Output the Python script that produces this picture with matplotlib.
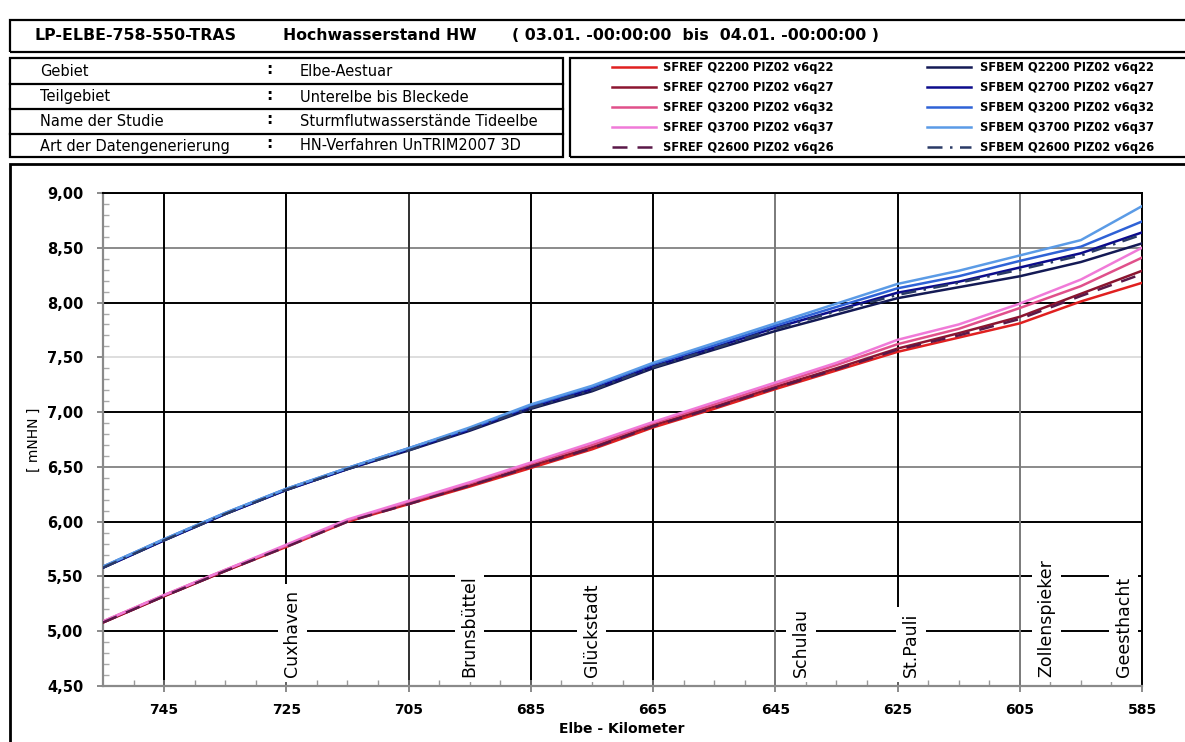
import matplotlib
matplotlib.use('Agg')
import matplotlib.pyplot as plt
from matplotlib.lines import Line2D
from matplotlib.patches import Rectangle

# ---------------- data ----------------
km = [755, 745, 735, 725, 715, 705, 695, 685, 675, 665, 655, 645, 635, 625, 615, 605, 595, 585]

sfref_q2200 = [5.08, 5.32, 5.55, 5.77, 6.00, 6.16, 6.32, 6.49, 6.66, 6.86, 7.03, 7.21, 7.38, 7.55, 7.68, 7.81, 8.01, 8.18]
sfref_q2700 = [5.08, 5.32, 5.55, 5.78, 6.01, 6.17, 6.33, 6.51, 6.68, 6.88, 7.05, 7.23, 7.40, 7.58, 7.72, 7.87, 8.08, 8.29]
sfref_q3200 = [5.09, 5.33, 5.56, 5.78, 6.01, 6.18, 6.35, 6.53, 6.70, 6.90, 7.07, 7.25, 7.43, 7.62, 7.76, 7.95, 8.15, 8.41]
sfref_q3700 = [5.09, 5.33, 5.56, 5.79, 6.02, 6.19, 6.36, 6.54, 6.72, 6.91, 7.09, 7.27, 7.45, 7.66, 7.80, 7.99, 8.21, 8.50]
sfref_q2600 = [5.08, 5.32, 5.55, 5.77, 6.00, 6.16, 6.33, 6.50, 6.67, 6.87, 7.04, 7.22, 7.39, 7.57, 7.70, 7.85, 8.06, 8.26]

sfbem_q2200 = [5.58, 5.83, 6.07, 6.29, 6.48, 6.65, 6.83, 7.03, 7.19, 7.40, 7.57, 7.74, 7.89, 8.04, 8.14, 8.24, 8.37, 8.54]
sfbem_q2700 = [5.58, 5.83, 6.07, 6.29, 6.48, 6.66, 6.84, 7.05, 7.21, 7.42, 7.59, 7.77, 7.93, 8.09, 8.19, 8.32, 8.45, 8.64]
sfbem_q3200 = [5.59, 5.84, 6.08, 6.30, 6.49, 6.67, 6.85, 7.06, 7.23, 7.44, 7.61, 7.79, 7.96, 8.13, 8.24, 8.38, 8.51, 8.74]
sfbem_q3700 = [5.59, 5.84, 6.08, 6.30, 6.49, 6.67, 6.86, 7.07, 7.24, 7.45, 7.63, 7.81, 7.99, 8.17, 8.29, 8.43, 8.57, 8.88]
sfbem_q2600 = [5.58, 5.83, 6.07, 6.29, 6.48, 6.65, 6.84, 7.04, 7.20, 7.41, 7.58, 7.76, 7.92, 8.07, 8.18, 8.30, 8.43, 8.62]

labels_ref = ["SFREF Q2200 PIZ02 v6q22", "SFREF Q2700 PIZ02 v6q27", "SFREF Q3200 PIZ02 v6q32",
              "SFREF Q3700 PIZ02 v6q37", "SFREF Q2600 PIZ02 v6q26"]
labels_bem = ["SFBEM Q2200 PIZ02 v6q22", "SFBEM Q2700 PIZ02 v6q27", "SFBEM Q3200 PIZ02 v6q32",
              "SFBEM Q3700 PIZ02 v6q37", "SFBEM Q2600 PIZ02 v6q26"]

stations = ["Cuxhaven", "Brunsbüttel", "Glückstadt", "Schulau", "St.Pauli", "Zollenspieker", "Geesthacht"]
station_km = [724.0, 695.0, 675.0, 640.8, 622.8, 600.6, 588.0]

xticks = [745, 725, 705, 685, 665, 645, 625, 605, 585]
xticklabels = ["745", "725", "705", "685", "665", "645", "625", "605", "585"]
yticks = [4.5, 5.0, 5.5, 6.0, 6.5, 7.0, 7.5, 8.0, 8.5, 9.0]

info_keys = ["Gebiet", "Teilgebiet", "Name der Studie", "Art der Datengenerierung"]
info_vals = ["Elbe-Aestuar", "Unterelbe bis Bleckede", "Sturmflutwasserstände Tideelbe", "HN-Verfahren UnTRIM2007 3D"]

# ---------------- styles ----------------
ref_values = [sfref_q2200, sfref_q2700, sfref_q3200, sfref_q3700, sfref_q2600]
bem_values = [sfbem_q2200, sfbem_q2700, sfbem_q3200, sfbem_q3700, sfbem_q2600]
ref_colors = ["#e02020", "#8c1530", "#e0508a", "#f07ad8", "#5a1848"]
bem_colors = ["#141a55", "#0c0c8c", "#2f62d6", "#5b9be6", "#2a3a66"]
ref_styles = ["-", "-", "-", "-", (0, (6, 4))]
bem_styles = ["-", "-", "-", "-", (0, (6, 3, 1, 3))]

W, H = 1185, 742
fig = plt.figure(figsize=(W / 100, H / 100), dpi=100)
fig.patch.set_facecolor("white")


def fx(x):
    return x / W


def fy(y):
    return 1 - y / H


def frame(x0, y0, x1, y1, lw=1.6):
    fig.add_artist(Rectangle((fx(x0), fy(y1)), fx(x1) - fx(x0), fy(y0) - fy(y1),
                             transform=fig.transFigure, fill=False, ec="black", lw=lw))


def hline(x0, x1, y, lw=1.6):
    fig.add_artist(Line2D([fx(x0), fx(x1)], [fy(y), fy(y)], transform=fig.transFigure,
                          color="black", lw=lw))


# header
frame(10, 20, 1195, 52)
fig.text(fx(35), fy(36), "LP-ELBE-758-550-TRAS", family="DejaVu Sans", weight="bold", size=11.3, va="center")
fig.text(fx(283), fy(36), "Hochwasserstand HW", family="DejaVu Sans", weight="bold", size=11.3, va="center")
fig.text(fx(512), fy(36), "( 03.01. -00:00:00  bis  04.01. -00:00:00 )", family="DejaVu Sans",
         weight="bold", size=11.3, va="center")

# info box
frame(10, 58, 563, 157)
for ys in [84, 109, 134]:
    hline(10, 563, ys)
row_y = [72, 97, 122, 146]
for k, v, yy in zip(info_keys, info_vals, row_y):
    fig.text(fx(40), fy(yy), k, family="DejaVu Sans", size=10.5, va="center")
    fig.text(fx(266), fy(yy - 2), ":", family="DejaVu Sans", weight="bold", size=11, va="center")
    fig.text(fx(300), fy(yy), v, family="DejaVu Sans", size=10.5, va="center")

# legend box
frame(570, 58, 1195, 157)
leg_y = [67, 87, 107, 127, 147]
for lab, col, ls, yy in zip(labels_ref, ref_colors, ref_styles, leg_y):
    fig.add_artist(Line2D([fx(612), fx(656)], [fy(yy), fy(yy)], transform=fig.transFigure,
                          color=col, lw=1.8, linestyle=ls))
    fig.text(fx(663), fy(yy), lab, family="DejaVu Sans", weight="bold", size=8.3, va="center")
for lab, col, ls, yy in zip(labels_bem, bem_colors, bem_styles, leg_y):
    fig.add_artist(Line2D([fx(927), fx(971)], [fy(yy), fy(yy)], transform=fig.transFigure,
                          color=col, lw=1.8, linestyle=ls))
    fig.text(fx(980), fy(yy), lab, family="DejaVu Sans", weight="bold", size=8.3, va="center")

# chart frame
frame(10, 164, 1195, 760, lw=2)

# ---------------- axes ----------------
ax = fig.add_axes([fx(103), fy(686), fx(1142) - fx(103), fy(193) - fy(686)])
ax.set_xlim(755, 585)
ax.set_ylim(4.5, 9.0)

hcolors = {5.0: "black", 5.5: "black", 6.0: "black", 6.5: "#8a8a8a", 7.0: "black",
           7.5: "#dedede", 8.0: "black", 8.5: "#8a8a8a", 9.0: "black"}
for yv, c in hcolors.items():
    ax.axhline(yv, color=c, lw=1.4, zorder=1)
vcolors = {745: "black", 725: "black", 705: "#303030", 685: "black", 665: "black",
           645: "#7a7a7a", 625: "black", 605: "#7a7a7a", 585: "black"}
for xv, c in vcolors.items():
    ax.axvline(xv, color=c, lw=1.4, zorder=1)

for name, k in zip(stations, station_km):
    ax.text(k, 4.585, name, rotation=90, ha="center", va="bottom", family="DejaVu Sans",
            size=12.5, zorder=2, bbox=dict(fc="white", ec="none", pad=4))

for vals, col, ls in zip(ref_values, ref_colors, ref_styles):
    ax.plot(km, vals, color=col, lw=1.8, linestyle=ls, zorder=3)
for vals, col, ls in zip(bem_values, bem_colors, bem_styles):
    ax.plot(km, vals, color=col, lw=1.8, linestyle=ls, zorder=3)

ax.set_xticks(xticks)
ax.set_xticklabels(xticklabels, family="DejaVu Sans", weight="bold", size=10)
ax.set_xticks(list(range(750, 584, -5)), minor=True)
ax.set_yticks(yticks)
ax.set_yticklabels([f"{v:.2f}".replace(".", ",") for v in yticks], family="DejaVu Sans",
                   weight="bold", size=10.5)
ax.set_yticks([4.5 + 0.1 * i for i in range(46)], minor=True)
ax.tick_params(axis="x", which="major", direction="inout", length=8, color="#777777", width=1.2, pad=8)
ax.tick_params(axis="x", which="minor", direction="in", length=4, color="#999999", width=1)
ax.tick_params(axis="y", which="major", direction="out", length=4, color="#777777", width=1.2, pad=10)
ax.tick_params(axis="y", which="minor", direction="in", length=4, color="#aaaaaa", width=1)

for s in ["left", "bottom"]:
    ax.spines[s].set_color("#8a8a8a")
    ax.spines[s].set_linewidth(1.6)
for s in ["top", "right"]:
    ax.spines[s].set_color("black")
    ax.spines[s].set_linewidth(1.4)

fig.text(fx(622), fy(729), "Elbe - Kilometer", family="DejaVu Sans", weight="bold", size=10,
         ha="center", va="center")
fig.text(fx(34), fy(440), "[ mNHN ]", family="DejaVu Sans", size=10, rotation=90,
         ha="center", va="center")

fig.savefig("out.png", dpi=100, facecolor="white")
